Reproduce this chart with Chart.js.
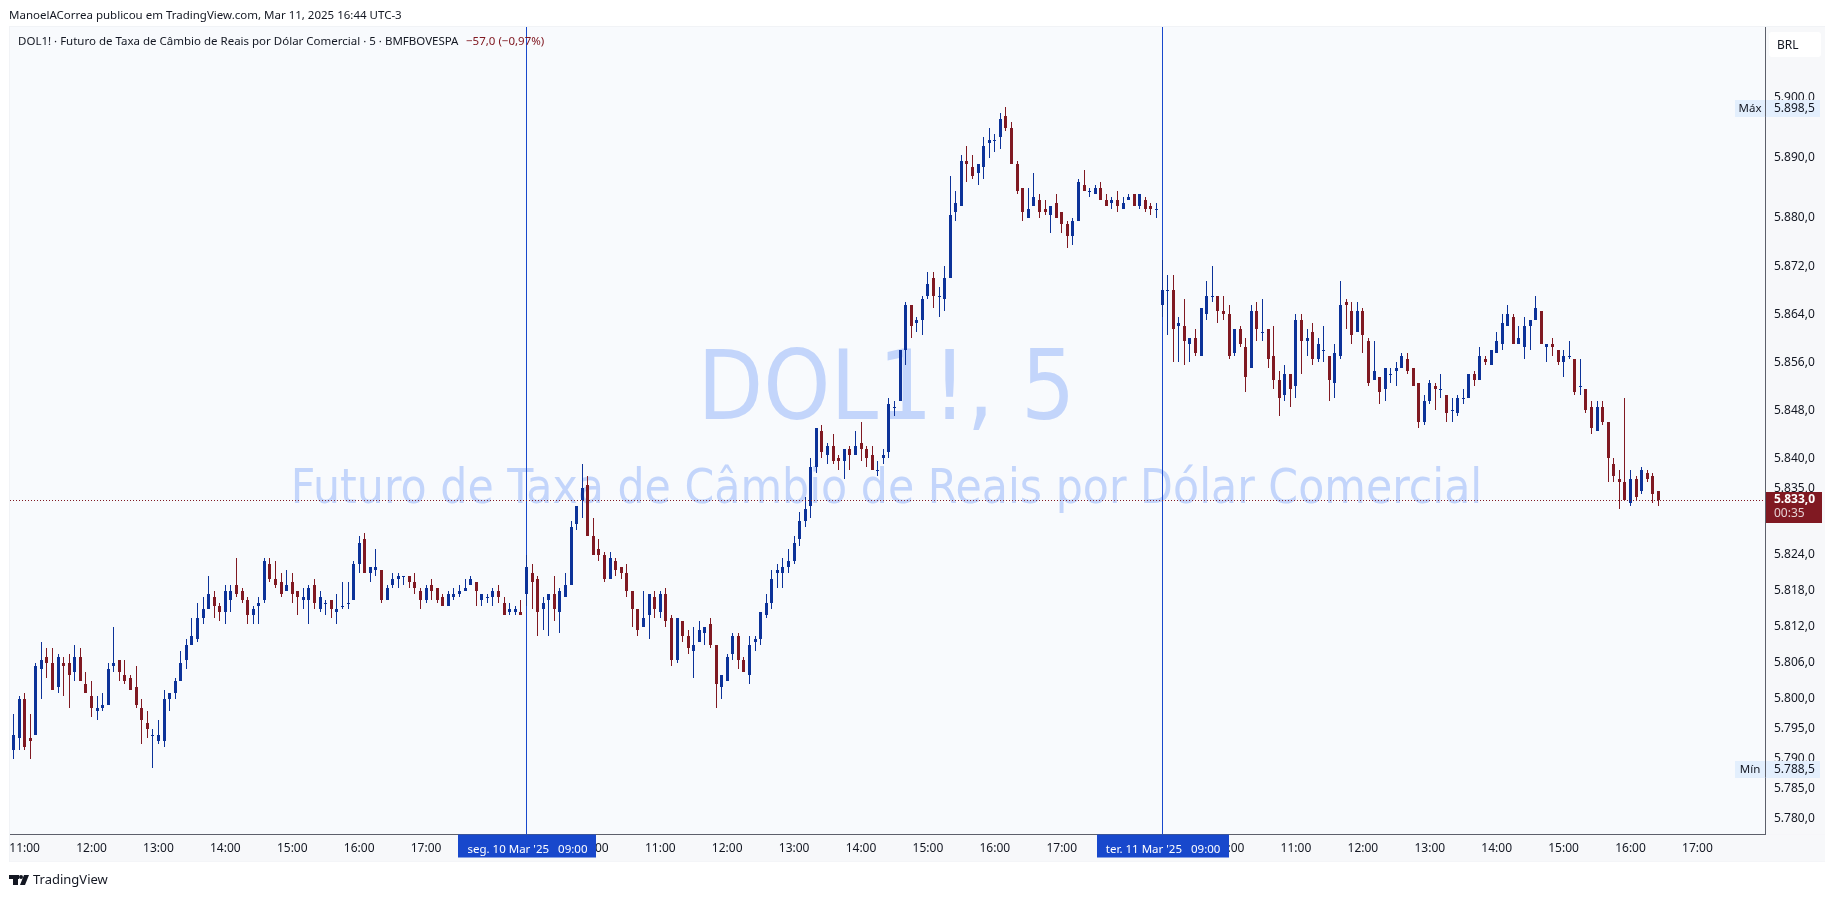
<!DOCTYPE html>
<html>
<head>
<meta charset="utf-8">
<title>DOL1! 5</title>
<script src="https://cdn.jsdelivr.net/npm/chart.js@4/dist/chart.umd.min.js"></script>
<style>
html, body { margin: 0; padding: 0; background: #fff; }
canvas { display: block; }
</style>
</head>
<body>
<canvas id="myChart" width="1835" height="897"></canvas>
<script>
// candles, 5 min bars, 10 Mar 10:50 -> 11 Mar 16:40 (no overnight bars)
var opens = [
5791.5,5793.5,5800,5793.5,5794,5805,5807,5806,5802,5806,
5806,5804.5,5807,5802.5,5800.5,5798,5798.5,5799,5805.5,5806.5,
5804,5803.5,5802,5798.5,5796,5794,5793,5793,5800,5801,
5803,5806.5,5809,5810,5813.5,5815,5817,5815.5,5814.5,5816.5,
5819,5818,5816.5,5814,5815.5,5816.5,5822.5,5820,5819.5,5818,
5819.5,5818,5816.5,5816.5,5819,5815,5816,5816.5,5814.5,5815.5,
5816,5816.5,5822.5,5826.5,5821,5821.5,5821.5,5816.5,5819,5820,
5820.5,5820.5,5819.5,5818,5816.5,5819,5818.5,5817,5815.5,5817,
5817.5,5818,5819,5819.5,5816.5,5817,5817,5818,5816,5814.5,
5814.5,5814.5,5817.5,5821,5820,5815,5816.5,5817.5,5814.5,5817,
5819,5829,5833,5835.5,5827,5825,5824,5820,5823,5822,
5821,5818,5815,5812,5814,5817,5814.5,5817.5,5813.5,5806.5,
5813,5810.5,5808,5809.5,5811,5812.5,5809,5802,5803,5807.5,
5810.5,5806.5,5804,5809.5,5810,5814,5816,5821,5821,5822,
5823,5826.5,5829.5,5832,5838.5,5844.5,5840.5,5842,5840,5839.5,
5841.5,5840.5,5842.5,5841.5,5840.5,5838,5840,5841,5848.5,5849.5,
5858,5865.5,5862.5,5863,5867,5870,5867,5866.5,5870,5881,
5882,5889.5,5888.5,5887.5,5888.5,5892.5,5893,5893.5,5897,5895,
5889,5885,5880,5882,5883,5881.5,5880.5,5882.5,5881,5879,
5877,5879.5,5885.5,5884.5,5884,5885,5883,5882.5,5883,5881.5,
5883,5884,5882,5883,5882,5881.5,5865.5,5868,5868,5862,
5862,5859,5860,5857,5864,5867,5867,5864.5,5864,5857.5,
5861.5,5858.5,5855,5864.5,5861,5861.5,5857,5853,5850.5,5854,
5852,5863,5859.5,5861,5856.5,5858,5857,5852.5,5857,5866,
5864.5,5861,5864.5,5859.5,5853,5853.5,5851.5,5854,5854.5,5855,
5856.5,5855,5852.5,5846,5849.5,5852,5851.5,5850.5,5848,5847.5,
5850,5850,5854,5853,5856.5,5855.5,5857.5,5859,5862,5863.5,
5859,5858.5,5862,5863,5864.5,5858.5,5859,5858,5856,5857,
5856.5,5852,5851.5,5848.5,5844.5,5848.5,5846,5839,5836.5,5836,
5832.5,5836.5,5834.5,5837.5,5837,5834.5
];
var highs = [
5797.5,5800.5,5801,5797.5,5806,5809.5,5808.5,5808.5,5807.5,5807,
5807.5,5809,5808.5,5804.5,5803,5800.5,5801,5806,5812,5806.5,
5806.5,5804,5805.5,5800,5798,5795,5796.5,5801.5,5801,5803.5,
5808,5810,5813.5,5816,5817,5820.5,5818,5816,5819,5819,
5823.5,5818.5,5817,5815.5,5817,5823.5,5823.5,5823,5821,5821.5,
5821,5818,5818.5,5819,5820,5818,5816.5,5816.5,5817.5,5819.5,
5819.5,5823,5827,5827.5,5822,5825,5821.5,5819,5821,5821,
5820.5,5820.5,5821,5818.5,5819,5820,5818.5,5817.5,5818,5818.5,
5819,5820,5820.5,5819.5,5817.5,5817.5,5818.5,5819,5817,5816,
5815.5,5816.5,5824,5822.5,5820.5,5817,5817.5,5820.5,5818.5,5821,
5829.5,5832,5839,5837,5830,5826.5,5824.5,5824.5,5823.5,5822,
5822.5,5818,5815,5818,5817.5,5818,5818,5818.5,5814,5813.5,
5813,5811.5,5812,5813,5812,5813.5,5809,5804,5807.5,5811,
5811,5807,5810.5,5810.5,5814.5,5817.5,5821.5,5822.5,5823.5,5825,
5827,5831,5833.5,5840,5845,5845.5,5842.5,5844,5840.5,5841.5,
5842,5844.5,5846,5842,5842,5839.5,5841.5,5850,5849.5,5858,
5866,5865.5,5863.5,5867,5871,5871,5868.5,5872,5887,5884.5,
5890.5,5892,5890.5,5889,5893.5,5895,5894,5897.5,5898.5,5896,
5889.5,5885,5885,5887.5,5884,5883,5882,5884,5881,5879.5,
5880,5886.5,5888,5885,5885.5,5886,5884,5883.5,5884.5,5883.5,
5884,5884,5884,5883.5,5882.5,5882.5,5873,5870.5,5870.5,5863.5,
5866.5,5860,5861.5,5865,5869.5,5872,5867,5867,5865.5,5861.5,
5862,5860,5865.5,5866,5866.5,5861.5,5862,5854.5,5855.5,5854,
5864,5864,5861.5,5862.5,5860,5862,5857,5859,5869.5,5866.5,
5866,5866,5865,5860,5859.5,5853.5,5855,5855,5856,5857.5,
5857.5,5855,5852.5,5850.5,5853,5852.5,5854,5850.5,5850,5850.5,
5851.5,5854,5854.5,5858.5,5857,5858,5861,5864,5865.5,5864,
5862,5863.5,5863,5867,5864.5,5859,5860,5858,5858,5859.5,
5856.5,5856.5,5851.5,5849.5,5849.5,5849.5,5846,5840,5838,5850,
5838,5837,5838.5,5838,5837.5,5834.5
];
var lows = [
5790,5791.5,5791.5,5790,5794,5800,5803.5,5801.5,5801,5800.5,
5798.5,5803,5803,5801,5797,5796.5,5798,5799,5804.5,5803,
5802.5,5801.5,5798.5,5792.5,5793.5,5788.5,5792.5,5792,5798,5800,
5803,5805,5809,5809.5,5812.5,5815,5813.5,5813,5812.5,5814.5,
5817,5816,5812.5,5812.5,5812.5,5816,5819.5,5818.5,5817,5818,
5816,5814,5815,5812.5,5815,5814.5,5814,5813.5,5812.5,5815,
5815,5816.5,5821,5821,5819.5,5820.5,5816,5816.5,5818.5,5818.5,
5819,5818.5,5817.5,5815,5816,5816.5,5816,5815.5,5815.5,5816.5,
5817,5818,5819,5815.5,5815.5,5816,5815.5,5816,5814,5814,
5814,5814,5815.5,5815,5810.5,5811.5,5810.5,5813,5811,5817,
5819,5828,5830,5827,5824,5823,5819.5,5820,5820.5,5820,
5817,5812,5810.5,5812,5810,5813.5,5813.5,5812,5805.5,5806,
5809.5,5807.5,5803.5,5809.5,5809,5808.5,5798.5,5800,5803,5806.5,
5805,5804.5,5802.5,5808,5809,5813.5,5815,5818.5,5818.5,5821,
5822.5,5825.5,5828.5,5830,5837.5,5840,5839,5839,5838,5836.5,
5838,5840.5,5839.5,5838.5,5838,5837,5839,5840,5847,5849.5,
5855.5,5860,5861,5860.5,5866.5,5865,5863.5,5864.5,5870,5879.5,
5882,5886,5886.5,5885.5,5886.5,5890,5891,5891.5,5894.5,5889,
5884,5879.5,5880,5882,5880,5880.5,5877.5,5880,5877.5,5875,
5875.5,5879.5,5884.5,5883.5,5884,5883,5882,5881.5,5881,5881.5,
5883,5882,5881.5,5881,5880.5,5880,5863.5,5860.5,5856,5856,
5855.5,5856,5857,5857,5863,5866,5862.5,5863,5856.5,5857,
5858.5,5851,5855,5859.5,5859.5,5855,5851.5,5847,5849.5,5848.5,
5850,5854,5857,5855.5,5856,5856,5849.5,5850,5856.5,5861.5,
5859,5861,5857.5,5852,5853,5849,5849.5,5852.5,5852,5855,
5854,5852,5845,5845.5,5849,5848,5850,5846,5846,5847,
5849,5850,5852,5853,5855.5,5855.5,5857.5,5858,5862,5859,
5859,5856.5,5858,5863,5859,5856,5857,5855.5,5853.5,5856.5,
5850.5,5850.5,5847.5,5844,5844.5,5845.5,5836,5836,5831.5,5833,
5832,5833,5834,5836,5832.5,5832
];
var closes = [
5794,5800,5792,5793,5805.5,5806.5,5806,5801.5,5807,5805.5,
5804,5807,5803,5801,5798.5,5798.5,5799,5805,5806,5804.5,
5803,5801.5,5799,5796.5,5795,5794,5794,5800,5801,5803,
5806,5809,5810.5,5813.5,5815,5817.5,5815.5,5814.5,5818,5818,
5817.5,5816.5,5814,5815,5816,5823,5820,5819,5817.5,5819,
5817.5,5817,5817,5818.5,5816,5817,5816,5815,5815,5815.5,
5816,5822.5,5826,5821,5822,5822,5816.5,5818.5,5820,5820.5,
5820.5,5819.5,5818.5,5816.5,5818.5,5818,5816.5,5815.5,5817.5,5817.5,
5818,5818.5,5820,5818,5817.5,5817,5818,5817,5814,5815,
5815,5814,5822,5819.5,5814.5,5816,5817.5,5815,5818,5819,
5828.5,5832,5835,5827,5824,5824,5820,5823.5,5821.5,5821,
5818,5815,5811.5,5813.5,5817.5,5815,5817.5,5813,5806.5,5813.5,
5810.5,5808.5,5809,5811.5,5812,5809,5802.5,5804,5807,5810.5,
5806.5,5804.5,5809,5810,5814.5,5816,5820,5821.5,5822,5823,
5826,5829.5,5831.5,5838.5,5845,5841,5842,5839.5,5839.5,5841.5,
5840.5,5842,5841.5,5840,5838,5838,5840.5,5849,5848.5,5858,
5865.5,5862,5863,5866.5,5869,5867,5867,5870,5880.5,5882.5,
5889.5,5889,5887,5889,5892,5893,5893,5896.5,5895,5889,
5884.5,5881,5881.5,5883.5,5881,5881,5882,5880,5879,5877,
5879.5,5886,5884.5,5884.5,5885,5883,5882,5883,5882,5882.5,
5883.5,5882,5884,5881.5,5881.5,5881.5,5868,5868,5861.5,5862.5,
5859.5,5860,5857.5,5865,5867,5867,5864.5,5864,5857,5861.5,
5859,5853.5,5864.5,5861.5,5861,5856.5,5853,5850,5854,5851.5,
5863,5859.5,5860,5856.5,5859,5858,5853,5857.5,5865.5,5865.5,
5860.5,5864.5,5860.5,5852.5,5854.5,5851,5855,5854,5855,5857,
5854.5,5852,5846,5849.5,5852.5,5851.5,5851.5,5847.5,5848,5850,
5850,5854,5853,5857,5856,5858,5859.5,5862.5,5864,5859,
5860,5862,5863,5865,5859,5859,5858.5,5856,5857,5857,
5851,5852,5848,5845,5848.5,5846,5840,5837,5836,5833,
5836.5,5833.5,5838,5836.5,5834,5833
];

var priceTicks = [5900,5890,5880,5872,5864,5856,5848,5840,5835,5824,5818,5812,5806,5800,5795,5790,5785,5780];
var timeBars = [2,14,26,38,50,62,74,104,116,128,140,152,164,176,188,218,230,242,254,266,278,290,302];
var timeLabels = ["11:00","12:00","13:00","14:00","15:00","16:00","17:00","10:00","11:00","12:00","13:00","14:00","15:00","16:00","17:00","10:00","11:00","12:00","13:00","14:00","15:00","16:00","17:00"];
var sessionBars = [92, 206];
var sessionLabels = ["seg. 10 Mar '25   09:00", "ter. 11 Mar '25   09:00"];
var highPrice = 5898.5, lowPrice = 5788.5, lastPrice = 5833;

var upColor = "#0c3299", downColor = "#801922", lineBlue = "#1848cc";
var uiFont = '"Noto Sans", sans-serif';
var textColor = "#131722";

function fmtPrice(v) {
    var s = v.toFixed(1).replace(".", ",");
    return s.charAt(0) + "." + s.slice(1);
}

function txt(ctx, s, x, y, font, color, align) {
    ctx.font = font;
    ctx.fillStyle = color;
    ctx.textAlign = align || "left";
    ctx.textBaseline = "middle";
    ctx.fillText(s, x, y);
}

// the watermark font is a condensed one, squeeze DejaVu a bit
function watermark(ctx, s, cx, baseline, size) {
    ctx.save();
    ctx.translate(cx, baseline);
    ctx.scale(0.89, 1);
    ctx.font = size + 'px "DejaVu Sans", sans-serif';
    ctx.fillStyle = "#c3d5fb";
    ctx.textAlign = "center";
    ctx.textBaseline = "alphabetic";
    ctx.fillText(s, 0, 0);
    ctx.restore();
}

var wickData = [], bodyData = [], barColors = [];
for (var i = 0; i < opens.length; i++) {
    wickData.push({ x: i, y: [lows[i], highs[i]] });
    bodyData.push({ x: i, y: [opens[i], closes[i]] });
    barColors.push(closes[i] >= opens[i] ? upColor : downColor);
}

// bars land on whole pixels like the original, otherwise they blur
var snapBars = {
    id: "snapBars",
    afterDatasetsUpdate: function (chart) {
        chart.data.datasets.forEach(function (ds, d) {
            chart.getDatasetMeta(d).data.forEach(function (el) {
                el.x = Math.floor(el.x) + 0.5;
                el.y = Math.round(el.y);
                el.base = Math.round(el.base);
                if (el.y === el.base) el.base = el.y + 1;
            });
        });
    }
};

var chartDecor = {
    id: "chartDecor",
    beforeDraw: function (chart) {
        var ctx = chart.ctx, a = chart.chartArea;
        ctx.save();
        ctx.fillStyle = "#fff";
        ctx.fillRect(0, 0, chart.width, chart.height);
        ctx.fillStyle = "#f1f3f6";
        ctx.fillRect(9, 26, 1816, 836);
        ctx.fillStyle = "#f7f8fa";
        ctx.fillRect(a.left, a.bottom, 1815, 27);
        ctx.fillRect(a.right, a.top, 60, a.bottom - a.top);
        ctx.fillStyle = "#f8fafd";
        ctx.fillRect(a.left, a.top, a.right - a.left, a.bottom - a.top);
        ctx.restore();
    },
    beforeDatasetsDraw: function (chart) {
        var ctx = chart.ctx, a = chart.chartArea, xs = chart.scales.x;
        ctx.save();
        watermark(ctx, "DOL1!, 5", 886.5, 419, 96);
        watermark(ctx, "Futuro de Taxa de Câmbio de Reais por Dólar Comercial", 886.5, 503, 48);
        ctx.fillStyle = lineBlue;
        sessionBars.forEach(function (b) {
            ctx.fillRect(Math.floor(xs.getPixelForValue(b)), a.top, 1, a.bottom - a.top);
        });
        ctx.restore();
    },
    afterDraw: function (chart) {
        var ctx = chart.ctx, a = chart.chartArea, xs = chart.scales.x, ys = chart.scales.y;
        ctx.save();

        // header and footer
        txt(ctx, "ManoelACorrea publicou em TradingView.com, Mar 11, 2025 16:44 UTC-3", 9, 16, "11.5px " + uiFont, textColor);
        txt(ctx, "DOL1! · Futuro de Taxa de Câmbio de Reais por Dólar Comercial · 5 · BMFBOVESPA", 18, 42, "11.5px " + uiFont, textColor);
        txt(ctx, "−57,0 (−0,97%)", 466, 42, "11.5px " + uiFont, downColor);
        txt(ctx, "TradingView", 33, 880, "13px " + uiFont, textColor);

        // logo
        ctx.fillStyle = "#131722";
        ctx.fillRect(9, 875, 10, 4);
        ctx.fillRect(13, 875, 5, 10);
        ctx.beginPath();
        ctx.arc(21, 877, 2, 0, Math.PI * 2);
        ctx.fill();
        ctx.beginPath();
        ctx.moveTo(24, 875);
        ctx.lineTo(29, 875);
        ctx.lineTo(25, 885);
        ctx.lineTo(20, 885);
        ctx.closePath();
        ctx.fill();

        // last price line
        var yLast = Math.floor(ys.getPixelForValue(lastPrice)) + 0.5;
        ctx.strokeStyle = downColor;
        ctx.lineWidth = 1;
        ctx.setLineDash([1, 2]);
        ctx.beginPath();
        ctx.moveTo(a.left, yLast);
        ctx.lineTo(a.right, yLast);
        ctx.stroke();
        ctx.setLineDash([]);

        // session badges on the time axis, as wide as their text
        sessionBars.forEach(function (b, k) {
            var cx = xs.getPixelForValue(b);
            ctx.font = "11.5px " + uiFont;
            var w = Math.round(ctx.measureText(sessionLabels[k]).width) + 18;
            ctx.fillStyle = lineBlue;
            ctx.fillRect(Math.round(cx - w / 2 + 1), a.bottom, w, 23);
            txt(ctx, sessionLabels[k], cx + 1, a.bottom + 15, "11.5px " + uiFont, "#fff", "center");
        });

        // max / min badges
        [["Máx", highPrice], ["Mín", lowPrice]].forEach(function (m) {
            var yy = ys.getPixelForValue(m[1]);
            ctx.fillStyle = "#e3effd";
            ctx.fillRect(1735, Math.round(yy) - 7, 85, 17);
            txt(ctx, m[0], 1750, yy + 2, "11.5px " + uiFont, textColor, "center");
            txt(ctx, fmtPrice(m[1]), 1774, yy + 2, "12px " + uiFont, textColor);
        });
        ctx.fillStyle = "#5d606b";
        ctx.fillRect(Math.floor(a.right), ys.getPixelForValue(highPrice) - 7, 1, 17);
        ctx.fillRect(Math.floor(a.right), ys.getPixelForValue(lowPrice) - 7, 1, 17);

        // last price badge
        ctx.fillStyle = downColor;
        ctx.fillRect(1766, 492, 56, 31);
        txt(ctx, fmtPrice(lastPrice), 1774, 500, "bold 12px " + uiFont, "#fff");
        txt(ctx, "00:35", 1774, 514, "12px " + uiFont, "#e6d1d3");

        // currency box
        ctx.fillStyle = "#fff";
        ctx.beginPath();
        ctx.roundRect(1769, 32, 52, 25, 3);
        ctx.fill();
        txt(ctx, "BRL", 1777, 46, "12px " + uiFont, textColor);
        ctx.restore();
    }
};

new Chart(document.getElementById("myChart"), {
    type: "bar",
    data: {
        datasets: [
            { data: wickData, backgroundColor: barColors, barThickness: 1, inflateAmount: 0, borderWidth: 0, grouped: false, order: 2 },
            { data: bodyData, backgroundColor: barColors, barThickness: 3, inflateAmount: 0, borderWidth: 0, grouped: false, order: 1 }
        ]
    },
    plugins: [snapBars, chartDecor],
    options: {
        responsive: false,
        animation: false,
        layout: { padding: { left: 10, right: 10, top: 27, bottom: 35 } },
        plugins: { legend: { display: false }, tooltip: { enabled: false }, title: { display: false } },
        scales: {
            x: {
                type: "linear",
                offset: false,
                min: -0.62,
                max: 314.12,
                grid: { display: false, drawTicks: false },
                border: { display: true, color: "#5d606b" },
                afterFit: function (scale) { scale.height = 27.5; },
                afterBuildTicks: function (scale) {
                    scale.ticks = timeBars.map(function (b) { return { value: b }; });
                },
                ticks: {
                    autoSkip: false,
                    maxRotation: 0,
                    padding: 7,
                    color: textColor,
                    font: { family: "Noto Sans", size: 12 },
                    callback: function (value) { return timeLabels[timeBars.indexOf(value)]; }
                }
            },
            y: {
                position: "right",
                min: 5777.4,
                max: 5911.8,
                grid: { display: false, drawTicks: false },
                border: { display: true, color: "#5d606b" },
                afterFit: function (scale) { scale.width = 60; },
                afterBuildTicks: function (scale) {
                    scale.ticks = priceTicks.map(function (v) { return { value: v }; });
                },
                ticks: {
                    autoSkip: false,
                    padding: 9,
                    color: textColor,
                    font: { family: "Noto Sans", size: 12 },
                    callback: function (value) { return fmtPrice(value); }
                }
            }
        }
    }
});
</script>
</body>
</html>
